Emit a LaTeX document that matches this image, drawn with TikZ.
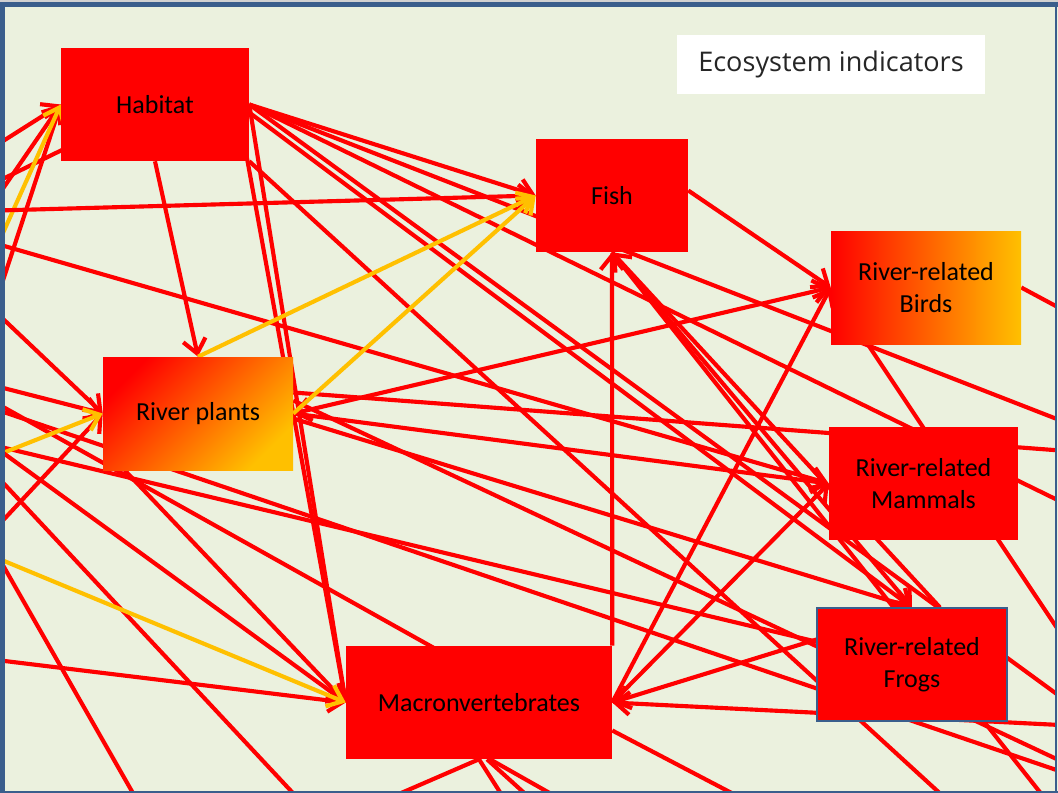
\documentclass[tikz,border=0pt]{standalone}
\usepackage{fontspec}
\setmainfont{Carlito}
\newfontfamily\titlefont{Open Sans}
\usetikzlibrary{arrows.meta,calc}
\pgfdeclarelayer{back}
\pgfdeclarelayer{edges}
\pgfdeclarelayer{front}
\pgfsetlayers{back,edges,main,front}
\definecolor{canvas}{HTML}{EBF1DE}
\definecolor{linkred}{HTML}{FF0000}
\definecolor{linkgold}{HTML}{FFC000}
\definecolor{frameblue}{HTML}{3A5E8C}

\tikzset{
  box/.style={rectangle, inner sep=0pt, minimum height=84.75pt, align=center,
    font=\fontsize{19.5}{24}\selectfont, text=black},
  redbox/.style={box, fill=linkred},
  link/.style={draw=linkred, line width=3.1pt},
  gold/.style={draw=linkgold, line width=3.1pt},
  tip/.style={-{Straight Barb[length=10.5pt,width=17pt]}},
  bitip/.style={{Straight Barb[length=10.5pt,width=17pt]}-{Straight Barb[length=10.5pt,width=17pt]}},
}

\begin{document}
\begin{tikzpicture}[x=0.75pt,y=-0.75pt]
\useasboundingbox (0,0) rectangle (1058,793);

% indicator boxes
\node[redbox, minimum width=141pt] (hab) at (155,104.5) {Habitat};
\node[redbox, minimum width=114pt] (fish) at (612,195.5) {Fish};
\node[box, minimum width=142.5pt, left color=linkred, right color=linkgold] (birds) at (926,287.5) {River-related\\Birds};
\node[box, minimum width=142.5pt, left color=linkred, right color=linkgold, shading angle=45] (rp) at (198,413.5) {River plants};
\node[redbox, minimum width=141.75pt] (mam) at (923.5,483.5) {River-related\\Mammals};
\node[redbox, minimum width=142.5pt, draw=frameblue, line width=0.8pt] (frog) at (912,664.5) {River-related\\Frogs};
\node[redbox, minimum width=199.5pt] (mac) at (479,702.5) {Macronvertebrates};
\node[fill=white, minimum width=231pt, minimum height=44.25pt, inner sep=0pt,
  font=\titlefont\fontsize{20.3}{24}\selectfont, text=black!85] (eco) at (831,64.5) {Ecosystem indicators};

% loose ends of links that leave the frame
\coordinate (w1) at (-30,162);
\coordinate (w2) at (-20,222);
\coordinate (w3) at (-15,273);
\coordinate (w4) at (-10,320);
\coordinate (w5) at (-30,195);
\coordinate (w6) at (-20,211);
\coordinate (w7) at (-20,297);
\coordinate (w8) at (-20,382);
\coordinate (w9) at (-20,462);
\coordinate (w10) at (-20,545);
\coordinate (w11) at (-20,239);
\coordinate (w12) at (-20,442);
\coordinate (w13) at (-20,394);
\coordinate (w14) at (-20,404);
\coordinate (w15) at (-20,436);
\coordinate (w16) at (-20,551);
\coordinate (w17) at (-20,658);
\coordinate (w18) at (-20,458);
\coordinate (w19) at (-20,525);
\coordinate (e1) at (1080,778);
\coordinate (e2) at (1080,428);
\coordinate (e3) at (1080,511);
\coordinate (e4) at (1080,711);
\coordinate (e5) at (1080,452);
\coordinate (e6) at (1080,770);
\coordinate (e7) at (1080,726);
\coordinate (e8) at (1075,655);
\coordinate (e9) at (1080,319);
\coordinate (s1) at (320,822);
\coordinate (s2) at (150,823);
\coordinate (s3) at (980,830);
\coordinate (s4) at (1062,820);
\coordinate (s5) at (745,800);
\coordinate (s6) at (385,800);
\coordinate (s7) at (505,800);
\coordinate (s8) at (532,800);
\coordinate (s9) at (562,800);

\begin{pgfonlayer}{back}
  \fill[canvas] (0,0) rectangle (1058,793);
\end{pgfonlayer}

\begin{pgfonlayer}{edges}
\begin{scope}
  \clip (5,7) rectangle (1056,791);
  % links that pass behind the boxes
  \draw[link] (hab.center) -- (w5);
  \draw[link] (hab.east) -- (e2);
  \draw[link] (hab.east) -- (e3);
  \draw[link] (hab.east) -- (e4);
  \draw[link] (hab.south east) -- (s3);
  \draw[link] (fish.south) -- (s4);
  \draw[link] ($(rp.east)+(0,-21)$) -- (e5);
  \draw[link] ($(rp.east)+(0,-13)$) -- (e6);
  \draw[link] (w12) -- (frog.center);
  \draw[link] (w13) -- ($(mac.north)+(-24,14)$);
  \draw[link] (w14) -- (e1);
  \draw[link] (w18) -- (s1);
  \draw[link] (w19) -- (s2);
  \draw[link] ($(mac.east)+(0,28)$) -- (s5);
  \draw[link] (mac.south) -- (s6);
  \draw[link] (mac.south) -- (s7);
  \draw[link] ($(mac.south)+(8,0)$) -- (s8);
  \draw[link] ($(mac.south)+(11,0)$) -- (s9);
  \draw[link] ($(birds.south west)+(19,-27)$) -- (e8);
  \draw[link] (birds.east) -- (e9);

  % links into Habitat
  \draw[link,tip] (w1) -- (hab.west);
  \draw[link,tip] (w2) -- (hab.west);
  \draw[link,tip] (w4) -- (hab.west);
  \draw[gold,tip] (w3) -- (hab.west);

  % links from Habitat
  \draw[link,tip] (hab.east) -- (fish.west);
  \draw[link,tip] (w6) -- (fish.west);
  \draw[link,tip] ($(hab.east)+(0,8)$) -- (frog.north);
  \draw[link,tip] (hab.south) -- (rp.north);
  \draw[link,tip] (hab.east) -- (mac.west);
  \draw[link,tip] ($(hab.east)+(-8,22)$) -- (mac.west);

  % Fish
  \draw[link,tip] ($(fish.east)+(0,-5)$) -- (birds.west);
  \draw[link,tip] (mac.north east) -- (fish.south);
  \draw[link,tip] (fish.south) -- (frog.north);
  \draw[link,tip] ($(frog.north)+(28,0)$) -- (fish.south);

  % River plants
  \draw[link,tip] (w7) -- (rp.west);
  \draw[link,tip] (w8) -- (rp.west);
  \draw[link,tip] (w10) -- (rp.west);
  \draw[gold,tip] (w9) -- (rp.west);
  \draw[link,bitip] (rp.east) -- (birds.west);
  \draw[link,tip] (rp.east) -- (mam.west);
  \draw[link,tip] ($(rp.east)+(0,5)$) -- (frog.north);
  \draw[link,tip] (w11) -- (mam.west);

  % Macronvertebrates
  \draw[link,tip] (w15) -- (mac.west);
  \draw[link,tip] (w17) -- (mac.west);
  \draw[link,tip] ($(rp.south west)+(22,0)$) -- (mac.west);
  \draw[gold,tip] (w16) -- (mac.west);
  \draw[link,tip] (mac.east) -- (birds.west);
  \draw[link,tip] (mac.east) -- (mam.west);
  \draw[link,tip] ($(frog.west)+(0,-25)$) -- (mac.east);
  \draw[link,tip] (e7) -- (mac.east);

  % yellow links into Fish
  \draw[gold,tip] (rp.north) -- (fish.west);
  \draw[gold,tip] (rp.east) -- (fish.west);
\end{scope}
\end{pgfonlayer}

\begin{pgfonlayer}{front}
  \fill[black!18] (0,0) rectangle (1058,2);
  \fill[frameblue] (0,2) rectangle (1058,7);
  \fill[frameblue] (0,2) rectangle (5,793);
  \draw[frameblue, line width=1.2pt] (1056,2) -- (1056,793);
  \draw[frameblue, line width=1.2pt] (0,792) -- (1058,792);
\end{pgfonlayer}
\end{tikzpicture}
\end{document}
